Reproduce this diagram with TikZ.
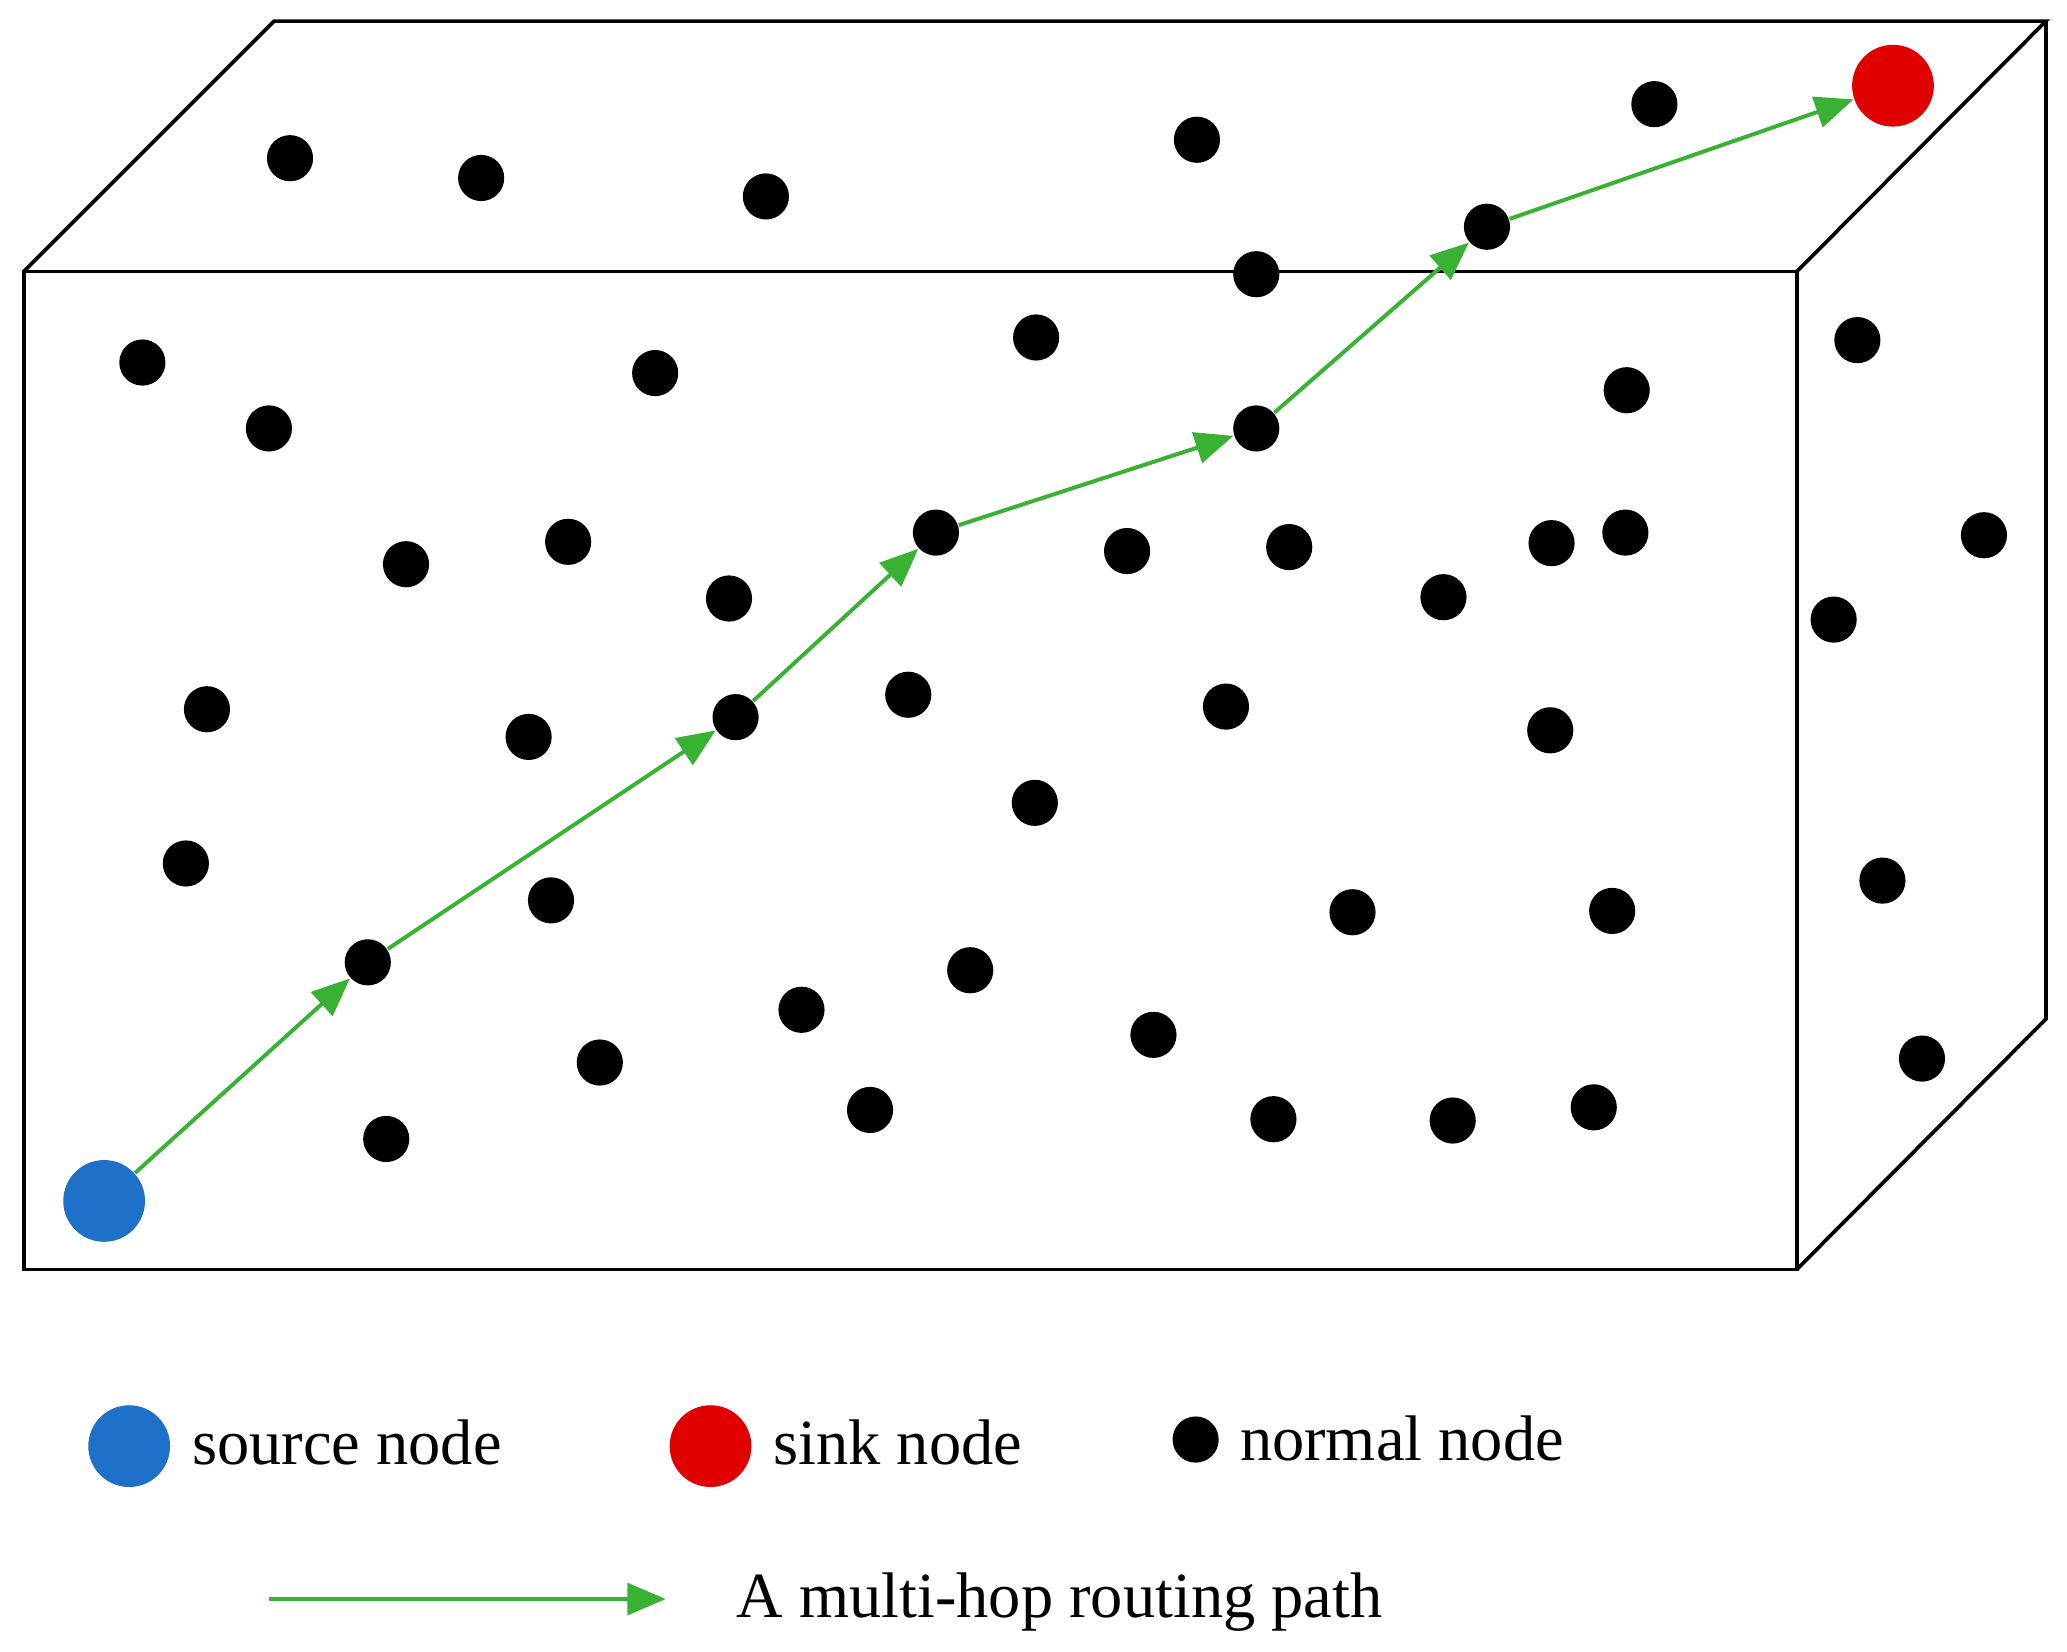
\documentclass[tikz,border=0pt]{standalone}
\usepackage{fontspec}
\setmainfont{Liberation Serif}
\usetikzlibrary{arrows.meta}
\definecolor{srcblue}{RGB}{31,112,200}
\definecolor{sinkred}{RGB}{224,0,0}
\definecolor{pathgreen}{RGB}{57,178,52}
\begin{document}
\begin{tikzpicture}[x=0.01cm,y=-0.01cm,
  dot/.style={circle,fill=black,inner sep=0pt,minimum size=0.35cm},
  src/.style={circle,fill=srcblue,inner sep=0pt,minimum size=0.62cm},
  sink/.style={circle,fill=sinkred,inner sep=0pt,minimum size=0.62cm},
  hop/.style={draw=pathgreen,line width=0.85pt,-{Triangle[length=2.9mm,width=2.4mm]}},
  boxline/.style={draw=black,line width=0.8pt,line join=miter},
  lab/.style={anchor=base west,inner sep=0pt,font=\fontsize{13.9}{16}\selectfont}]
\useasboundingbox (0,0) rectangle (1568,1253);
% box corners
\coordinate (fTL) at (18,206);
\coordinate (fTR) at (1363,206);
\coordinate (fBR) at (1363,963);
\coordinate (fBL) at (18,963);
\coordinate (bTL) at (208,16);
\coordinate (bTR) at (1552,16);
\coordinate (bBR) at (1552,773);
\draw[boxline] (fTL) rectangle (fBR);
\draw[boxline] (fTL) -- (bTL) -- (bTR) -- (fTR);
\draw[boxline] (bTR) -- (bBR) -- (fBR);
% top face dots
\node[dot] (t1) at (220,120) {};
\node[dot] (t2) at (365,135) {};
\node[dot] (t3) at (581,149) {};
\node[dot] (t4) at (908,106) {};
\node[dot] (t5) at (1255,79) {};
\node[dot] (t6) at (953,208) {};
% front face dots
\node[dot] (f1) at (108,275) {};
\node[dot] (f2) at (204,325) {};
\node[dot] (f3) at (497,283) {};
\node[dot] (f4) at (786,256) {};
\node[dot] (f5) at (1234,296) {};
\node[dot] (f6) at (308,428) {};
\node[dot] (f7) at (431,411) {};
\node[dot] (f8) at (553,454) {};
\node[dot] (f9) at (855,418) {};
\node[dot] (f10) at (978,415) {};
\node[dot] (f11) at (1095,453) {};
\node[dot] (f12) at (1177,412) {};
\node[dot] (f13) at (1233,404) {};
\node[dot] (f14) at (157,538) {};
\node[dot] (f15) at (401,559) {};
\node[dot] (f16) at (689,527) {};
\node[dot] (f17) at (930,536) {};
\node[dot] (f18) at (1176,554) {};
\node[dot] (f19) at (785,609) {};
\node[dot] (f20) at (141,655) {};
\node[dot] (f21) at (418,683) {};
\node[dot] (f22) at (1026,692) {};
\node[dot] (f23) at (1223,691) {};
\node[dot] (f24) at (736,736) {};
\node[dot] (f25) at (608,766) {};
\node[dot] (f26) at (455,806) {};
\node[dot] (f27) at (875,785) {};
\node[dot] (f28) at (293,864) {};
\node[dot] (f29) at (660,842) {};
\node[dot] (f30) at (966,849) {};
\node[dot] (f31) at (1102,850) {};
\node[dot] (f32) at (1209,840) {};
% right face dots
\node[dot] (r1) at (1409,258) {};
\node[dot] (r2) at (1505,406) {};
\node[dot] (r3) at (1391,470) {};
\node[dot] (r4) at (1428,668) {};
\node[dot] (r5) at (1458,803) {};
% routing path nodes
\node[src] (s) at (79,911) {};
\node[dot] (p1) at (279,730) {};
\node[dot] (p2) at (558,544) {};
\node[dot] (p3) at (710,404) {};
\node[dot] (p4) at (953,325) {};
\node[dot] (p5) at (1128,172) {};
\node[sink] (k) at (1436,65) {};
\draw[hop] (s) -- (p1);
\draw[hop] (p1) -- (p2);
\draw[hop] (p2) -- (p3);
\draw[hop] (p3) -- (p4);
\draw[hop] (p4) -- (p5);
\draw[hop] (p5) -- (k);
% legend
\node[src] (ls) at (98,1097) {};
\node[lab] (lst) at (145,1111) {source node};
\node[sink] (lk) at (539,1097) {};
\node[lab] (lkt) at (586,1111) {sink node};
\node[dot] (ln) at (907,1092) {};
\node[lab] (lnt) at (940,1108) {normal node};
\coordinate (la) at (204,1213);
\coordinate (lb) at (505,1213);
\draw[hop] (la) -- (lb);
\node[lab] (lat) at (558,1227) {A multi-hop routing path};
\end{tikzpicture}
\end{document}
